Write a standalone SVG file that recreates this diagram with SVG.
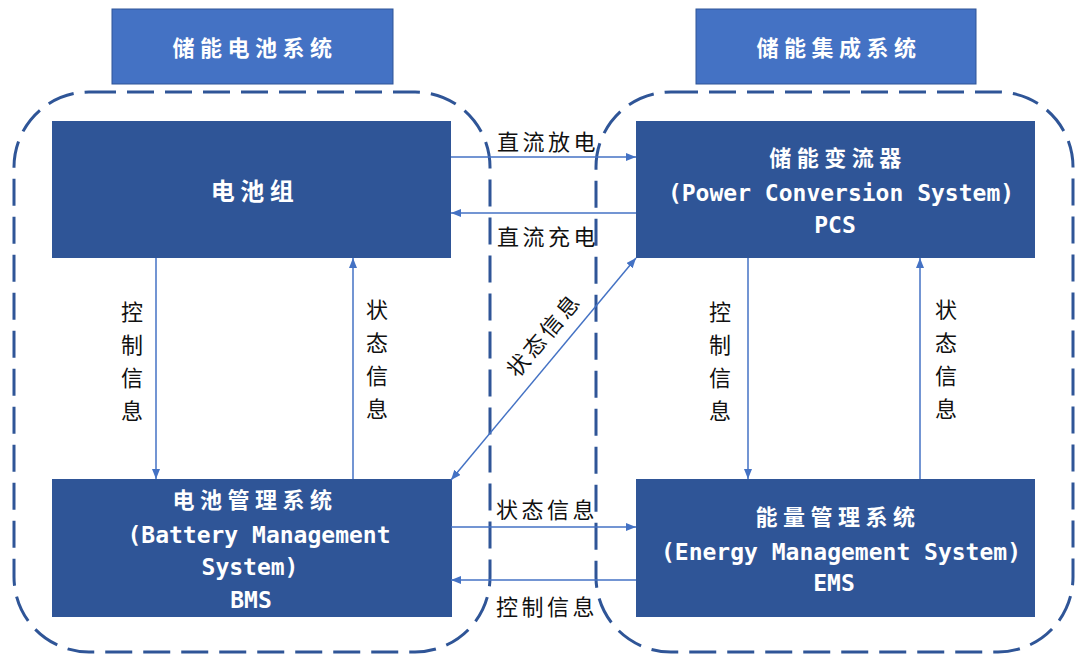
<svg xmlns="http://www.w3.org/2000/svg" width="1082" height="660" viewBox="0 0 1082 660">
<style>
.bound{fill:none;stroke:#2F5597;stroke-width:3;stroke-dasharray:27 11}
.title{fill:#4472C4;stroke:#2F5597;stroke-width:1}
.box{fill:#2F5597;stroke:none}
.cn{font-family:"Noto Sans CJK SC",sans-serif;font-weight:bold;font-size:22px;fill:#fff;text-anchor:middle;letter-spacing:5.5px}
.big{font-size:24px;letter-spacing:5.5px}
.en{font-family:"DejaVu Sans Mono","Liberation Mono",monospace;font-weight:bold;font-size:23px;fill:#fff;text-anchor:middle}
.lbl{font-family:"Noto Sans CJK SC",sans-serif;font-size:22px;fill:#111;text-anchor:middle;letter-spacing:3.5px}
.vl{font-family:"Noto Sans CJK SC",sans-serif;font-size:22px;fill:#111;text-anchor:middle}
.conn{fill:none;stroke:#4472C4;stroke-width:1.5}
</style>
<defs>
<marker id="arr" markerUnits="userSpaceOnUse" markerWidth="11" markerHeight="9" refX="10" refY="4" orient="auto-start-reverse">
<path d="M0,0 L10,4 L0,8 z" fill="#4472C4"/>
</marker>
</defs>
<rect width="1082" height="660" fill="#fff"/>
<g id="boundary-battery"><rect class="bound" x="14" y="92" width="476" height="560" rx="75" ry="75"/></g>
<g id="boundary-integration"><rect class="bound" x="596" y="92" width="477" height="560" rx="75" ry="75"/></g>
<g id="title-battery"><rect class="title" x="112" y="9" width="281" height="75"/><text class="cn" x="255" y="56">储能电池系统</text></g>
<g id="title-integration"><rect class="title" x="696" y="9" width="280" height="75"/><text class="cn" x="839" y="56">储能集成系统</text></g>
<g id="battery-pack"><rect class="box" x="52" y="121" width="399" height="137"/><text class="cn big" x="255" y="200">电池组</text></g>
<g id="pcs"><rect class="box" x="636" y="121" width="399" height="137"/>
<text class="cn" x="838" y="166">储能变流器</text>
<text class="en" x="841" y="201">(Power Conversion System)</text>
<text class="en" x="835" y="233">PCS</text></g>
<g id="bms"><rect class="box" x="52" y="479" width="400" height="138"/>
<text class="cn" x="255" y="508">电池管理系统</text>
<text class="en" x="259" y="543">(Battery Management</text>
<text class="en" x="250" y="575">System)</text>
<text class="en" x="251" y="608">BMS</text></g>
<g id="ems"><rect class="box" x="636" y="479" width="399" height="138"/>
<text class="cn" x="838" y="525">能量管理系统</text>
<text class="en" x="841" y="560">(Energy Management System)</text>
<text class="en" x="834" y="591">EMS</text></g>
<g id="connectors">
<path class="conn" d="M451,157 H636" marker-end="url(#arr)"/>
<path class="conn" d="M636,213 H451" marker-end="url(#arr)"/>
<path class="conn" d="M451,480 L636,258" marker-start="url(#arr)" marker-end="url(#arr)"/>
<path class="conn" d="M156,258 V479" marker-end="url(#arr)"/>
<path class="conn" d="M353,479 V258" marker-end="url(#arr)"/>
<path class="conn" d="M748,258 V479" marker-end="url(#arr)"/>
<path class="conn" d="M920,479 V258" marker-end="url(#arr)"/>
<path class="conn" d="M451,527 H636" marker-end="url(#arr)"/>
<path class="conn" d="M636,580 H451" marker-end="url(#arr)"/>
</g>
<g id="labels">
<text class="lbl" x="548" y="150">直流放电</text>
<text class="lbl" x="548" y="245">直流充电</text>
<text class="lbl" x="547" y="518">状态信息</text>
<text class="lbl" x="547" y="615">控制信息</text>
<text class="lbl" transform="translate(543,336) rotate(-50)" x="1.75" y="8">状态信息</text>
<g class="vl"><text class="vl" x="132" y="320">控</text><text class="vl" x="132" y="353">制</text><text class="vl" x="132" y="386">信</text><text class="vl" x="132" y="419">息</text></g>
<g class="vl"><text class="vl" x="377" y="318">状</text><text class="vl" x="377" y="351">态</text><text class="vl" x="377" y="384">信</text><text class="vl" x="377" y="417">息</text></g>
<g class="vl"><text class="vl" x="720" y="320">控</text><text class="vl" x="720" y="353">制</text><text class="vl" x="720" y="386">信</text><text class="vl" x="720" y="419">息</text></g>
<g class="vl"><text class="vl" x="946" y="318">状</text><text class="vl" x="946" y="351">态</text><text class="vl" x="946" y="384">信</text><text class="vl" x="946" y="417">息</text></g>
</g>
</svg>
